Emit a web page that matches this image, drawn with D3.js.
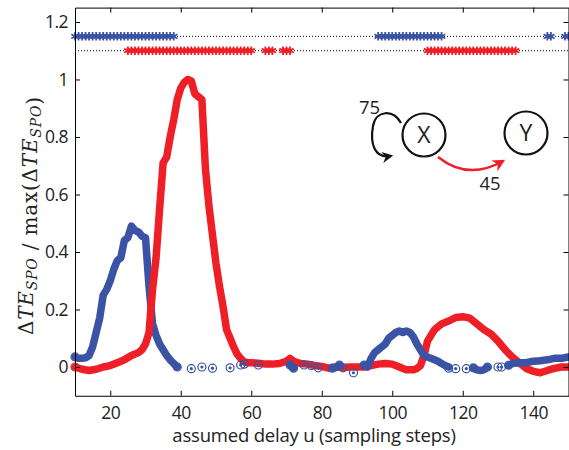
<!DOCTYPE html>
<html>
<head>
<meta charset="utf-8">
<script src="https://cdn.jsdelivr.net/npm/d3@7"></script>
<style>
  body { margin: 0; background: #fff; }
  svg { display: block; }
  .tick text { font-family: "Open Sans", sans-serif; font-size: 17.5px; fill: #222; letter-spacing: -0.5px; }
</style>
</head>
<body>
<svg id="chart" width="569" height="450"></svg>
<script>
// values: [delay u, normalised dTE]
const redCurve = [[10,0],[12,-0.008],[14,-0.012],[16,-0.008],[18,0],[20,0.005],[22,0.015],[24,0.025],[26,0.04],[28,0.05],[29,0.06],[30,0.08],[31,0.12],
  [32,0.27],[33,0.38],[34,0.55],[35,0.71],[36,0.73],[37,0.8],[38,0.86],[39,0.93],[40,0.97],[41,0.99],[42,1.0],[43,0.995],[44,0.95],[45,0.94],[46,0.93],
  [47,0.69],[48,0.56],[49,0.46],[50,0.36],[51,0.28],[52,0.21],[53,0.13],[54,0.1],[55,0.07],[56,0.045],[57,0.03],[58,0.018],[59,0.015],[60,0.015],
  [62,0.013],[64,0.01],[66,0.01],[68,0.012],[70,0.02],[71,0.03],[72,0.02],[74,0.012],[76,0.01],[78,0.005],[80,0.002],[82,-0.004],[84,0],[86,-0.002],
  [88,0],[90,0],[92,0],[94,0.005],[96,0.01],[98,0.012],[100,0.01],[102,0],[104,-0.01],[106,-0.01],[107,-0.005],[108,0.005],[109,0.04],[110,0.09],
  [111,0.11],[112,0.13],[114,0.15],[116,0.16],[118,0.172],[120,0.175],[122,0.17],[124,0.15],[126,0.13],[128,0.115],[130,0.09],[132,0.06],[134,0.035],
  [136,0.015],[138,-0.005],[140,-0.015],[142,-0.02],[144,-0.012],[146,-0.005],[148,0],[150,0]];

// null = gap in the blue line
const blueCurve = [[10,0.035],[11,0.03],[12,0.03],[13,0.032],[14,0.04],[15,0.07],[16,0.12],[17,0.17],[18,0.25],[19,0.27],[20,0.3],[21,0.34],[22,0.37],
  [23,0.38],[24,0.44],[25,0.45],[26,0.49],[27,0.475],[28,0.47],[29,0.455],[30,0.45],[31,0.28],[32,0.15],[33,0.11],[34,0.08],[35,0.06],[36,0.04],
  [37,0.025],[38,0.012],[39,0],[40,null],
  [71,0.007],[72,-0.004],[73,null],
  [83,-0.004],[84,-0.002],[85,0.007],[86,null],
  [92,0.007],[93,0],[94,0.03],[95,0.05],[96,0.06],[97,0.07],[98,0.08],[99,0.1],[100,0.11],[101,0.12],[102,0.125],[103,0.12],[104,0.125],[105,0.12],
  [106,0.105],[107,0.08],[108,0.06],[109,0.04],[110,0.035],[111,0.03],[112,0.025],[113,0.02],[114,0.012],[115,0.005],[116,0],[117,null],
  [123,-0.003],[124,-0.01],[125,-0.012],[126,-0.01],[127,0],[128,null],
  [133,0.006],[134,0.012],[136,0.015],[138,0.015],[140,0.02],[142,0.022],[144,0.025],[146,0.03],[148,0.03],[150,0.035]];

const blueCircles = [[10,0.035],[39,0],[43,-0.006],[46,0],[49,-0.004],[54,-0.003],[57,0.007],[58,0.01],[62,0.007],[71,0.007],[72,-0.004],[75,0.007],
  [77,0.005],[79,-0.003],[83,-0.004],[85,0.007],[86,-0.003],[89,-0.02],[92,0.007],[116,-0.004],[118,-0.006],[121,-0.006],[123,-0.003],[127,0],
  [130,0],[131,0],[133,0.006]];
const redCircles = [[10,0]];

// significant delays (star rows)
const blueSig = [[10,38],[96,114],[144,145],[149,150]];
const redSig = [[25,60],[64,66],[69,71],[110,135]];
const blueRowY = 1.15, redRowY = 1.1;

const xTicks = [20,40,60,80,100,120,140];
const yTicks = [0,0.2,0.4,0.6,0.8,1,1.2];

const blue = "#3a53a4", red = "#ee1f26";

const svg = d3.select("#chart");
const margin = {left: 75, right: 0.5, top: 7.6, bottom: 54.25};
const W = 569, H = 450;

const x = d3.scaleLinear().domain([10,150]).range([margin.left, W - margin.right]);
const y = d3.scaleLinear().domain([-0.1,1.25]).range([H - margin.bottom, margin.top]);

// dotted reference lines + star rows
[[blueRowY, blueSig, blue], [redRowY, redSig, red]].forEach(function(row){
  svg.append("line")
    .attr("x1", x(10)).attr("x2", x(150))
    .attr("y1", y(row[0])).attr("y2", y(row[0]))
    .attr("stroke", "#000").attr("stroke-width", 1)
    .attr("stroke-dasharray", "1,2");
  let pts = [];
  row[1].forEach(r => { pts = pts.concat(d3.range(r[0], r[1] + 1)); });
  svg.append("g").selectAll("path")
    .data(pts).enter().append("path")
    .attr("d", d3.symbol(d3.symbolAsterisk, 50))
    .attr("transform", d => "translate(" + x(d) + "," + y(row[0]) + ")")
    .attr("fill", "none").attr("stroke", row[2]).attr("stroke-width", 1.8);
});

let line = d3.line()
  .defined(d => d[1] !== null)
  .x(d => x(d[0])).y(d => y(d[1]));

function curve(data, color){
  svg.append("path")
    .datum(data)
    .attr("d", line)
    .attr("fill", "none")
    .attr("stroke", color)
    .attr("stroke-width", 7.5)
    .attr("stroke-linejoin", "round")
    .attr("stroke-linecap", "round");
}

curve(blueCurve.filter(d => d[0] <= 40), blue);
curve(redCurve, red);
curve(blueCurve.filter(d => d[0] > 40), blue);

function circles(data, color){
  let g = svg.append("g");
  g.selectAll("circle.o").data(data).enter().append("circle")
    .attr("cx", d => x(d[0])).attr("cy", d => y(d[1])).attr("r", 4)
    .attr("fill", "none").attr("stroke", color).attr("stroke-width", 1.2);
  g.selectAll("circle.dot").data(data).enter().append("circle")
    .attr("cx", d => x(d[0])).attr("cy", d => y(d[1])).attr("r", 1.6)
    .attr("fill", color);
}
circles(blueCircles, blue);
circles(redCircles, red);

// axes, MATLAB style: inward ticks on all four sides
const tk = 5;
let gB = svg.append("g").attr("transform", "translate(0," + y.range()[0] + ")")
  .call(d3.axisBottom(x).tickValues(xTicks).tickSizeInner(-tk).tickSizeOuter(0).tickPadding(10.5));
let gT = svg.append("g").attr("transform", "translate(0," + y.range()[1] + ")")
  .call(d3.axisTop(x).tickValues(xTicks).tickSizeInner(-tk).tickSizeOuter(0).tickFormat(""));
let gL = svg.append("g").attr("transform", "translate(" + x.range()[0] + ",0)")
  .call(d3.axisLeft(y).tickValues(yTicks).tickSizeInner(-tk).tickSizeOuter(0).tickPadding(7).tickFormat(d3.format("~g")));
let gR = svg.append("g").attr("transform", "translate(" + x.range()[1] + ",0)")
  .call(d3.axisRight(y).tickValues(yTicks).tickSizeInner(-tk).tickSizeOuter(0).tickFormat(""));
[gB, gT, gL, gR].forEach(g => {
  g.select(".domain").attr("stroke", "#000").attr("stroke-width", 1);
  g.selectAll(".tick line").attr("stroke", "#000");
});

// x label
svg.append("text")
  .attr("x", 314)
  .attr("y", 442)
  .attr("text-anchor", "middle")
  .style("font-family", "'Open Sans', sans-serif")
  .style("font-size", "18.5px")
  .style("fill", "#222")
  .style("letter-spacing", "-0.2px")
  .text("assumed delay u (sampling steps)");

// y label (math)
let yl = svg.append("text")
  .attr("transform", "translate(33,216) rotate(-90)")
  .attr("text-anchor", "middle")
  .attr("textLength", 238)
  .attr("lengthAdjust", "spacing")
  .style("font-family", "'DejaVu Serif', serif")
  .style("font-size", "20px")
  .style("fill", "#222");
function teSpo(t){
  t.append("tspan").text("\u0394");
  t.append("tspan").style("font-style", "italic").text("TE");
  t.append("tspan").style("font-style", "italic").style("font-size", "14px").attr("dy", 4).text("SPO");
  t.append("tspan").attr("dy", -4).text("");
}
teSpo(yl);
yl.append("tspan").text(" / max(");
teSpo(yl);
yl.append("tspan").text(")");

// network sketch
let defs = svg.append("defs");
[["arrK", "#111"], ["arrR", red]].forEach(function(m){
  defs.append("marker").attr("id", m[0])
    .attr("viewBox", "0 0 10 10").attr("refX", 8).attr("refY", 5)
    .attr("markerWidth", 5).attr("markerHeight", 5)
    .attr("markerUnits", "strokeWidth")
    .attr("orient", "auto")
    .append("path").attr("d", "M0,0 L10,5 L0,10 L3,5 Z").attr("fill", m[1]);
});

let net = svg.append("g");
[[424,135,"X"],[526,133,"Y"]].forEach(function(n){
  net.append("circle").attr("cx", n[0]).attr("cy", n[1]).attr("r", 21.5)
    .attr("fill", "none").attr("stroke", "#111").attr("stroke-width", 2.2);
  net.append("text").attr("x", n[0]).attr("y", n[1] + 8)
    .attr("text-anchor", "middle")
    .style("font-family", "'Open Sans', sans-serif").style("font-size", "23px")
    .style("fill", "#222").text(n[2]);
});
net.append("path")
  .attr("d", "M401,123 C393,109 376,110 373,126 C370,143 374,159 391,156")
  .attr("fill", "none").attr("stroke", "#111").attr("stroke-width", 2.2)
  .attr("marker-end", "url(#arrK)");
net.append("path")
  .attr("d", "M438,157 Q468,181 503,161")
  .attr("fill", "none").attr("stroke", red).attr("stroke-width", 2.5)
  .attr("marker-end", "url(#arrR)");
net.append("text").attr("x", 369.5).attr("y", 113.5).attr("text-anchor", "middle")
  .style("font-family", "'Open Sans', sans-serif").style("font-size", "18.5px").style("fill", "#222").text("75");
net.append("text").attr("x", 490).attr("y", 190).attr("text-anchor", "middle")
  .style("font-family", "'Open Sans', sans-serif").style("font-size", "18.5px").style("fill", "#222").text("45");
</script>
</body>
</html>
